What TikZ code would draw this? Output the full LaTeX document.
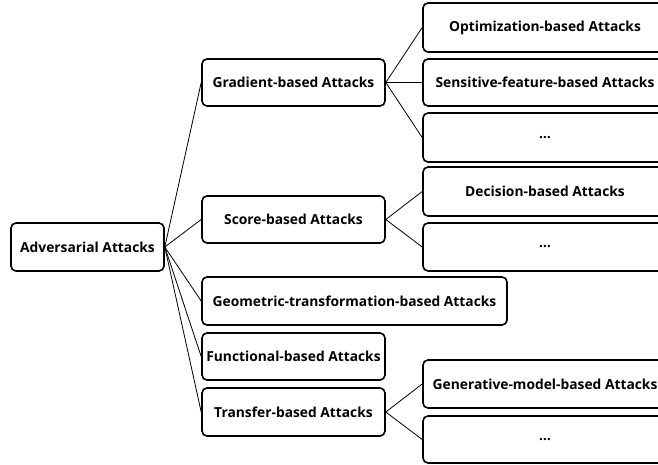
\documentclass[tikz,border=0pt]{standalone}
\usepackage{fontspec}
\setmainfont{Open Sans}
\begin{document}
\begin{tikzpicture}[x=1pt,y=-1pt,
  box/.style={draw, line width=1.6pt, rounded corners=5pt, inner sep=0pt,
    font=\fontsize{13.8}{16}\selectfont\bfseries, align=center},
  conn/.style={line width=0.8pt}]
\clip (0,0) rectangle (658,464);
\fill[white] (0,0) rectangle (658,464);
% root
\node[box, minimum width=153pt, minimum height=48pt] (root) at (87.5,247) {Adversarial Attacks};
% level 1
\node[box, minimum width=183pt, minimum height=47pt] (grad) at (293.5,82.5) {Gradient-based Attacks};
\node[box, minimum width=183pt, minimum height=47pt] (score) at (293.5,219.5) {Score-based Attacks};
\node[box, minimum width=305pt, minimum height=48pt] (geo) at (354.5,301) {Geometric-transformation-based Attacks};
\node[box, minimum width=183pt, minimum height=47pt] (func) at (293.5,356.5) {Functional-based Attacks};
\node[box, minimum width=183pt, minimum height=48pt] (trans) at (293.5,412) {Transfer-based Attacks};
% level 2
\node[box, minimum width=244pt, minimum height=49pt] (opt) at (545,27.5) {Optimization-based Attacks};
\node[box, minimum width=244pt, minimum height=47pt] (sens) at (545,82.5) {Sensitive-feature-based Attacks};
\node[box, minimum width=244pt, minimum height=49pt] (gdots) at (545,137.5) {…};
\node[box, minimum width=244pt, minimum height=49pt] (dec) at (545,191.5) {Decision-based Attacks};
\node[box, minimum width=244pt, minimum height=48pt] (sdots) at (545,247) {…};
\node[box, minimum width=244pt, minimum height=48pt] (gen) at (545,384) {Generative-model-based Attacks};
\node[box, minimum width=244pt, minimum height=47pt] (tdots) at (545,439.5) {…};
% connectors
\foreach \c in {grad,score,geo,func,trans}
  \draw[conn] (root.east) -- (\c.west);
\foreach \c in {opt,sens,gdots}
  \draw[conn] (grad.east) -- (\c.west);
\foreach \c in {dec,sdots}
  \draw[conn] (score.east) -- (\c.west);
\foreach \c in {gen,tdots}
  \draw[conn] (trans.east) -- (\c.west);
\end{tikzpicture}
\end{document}
